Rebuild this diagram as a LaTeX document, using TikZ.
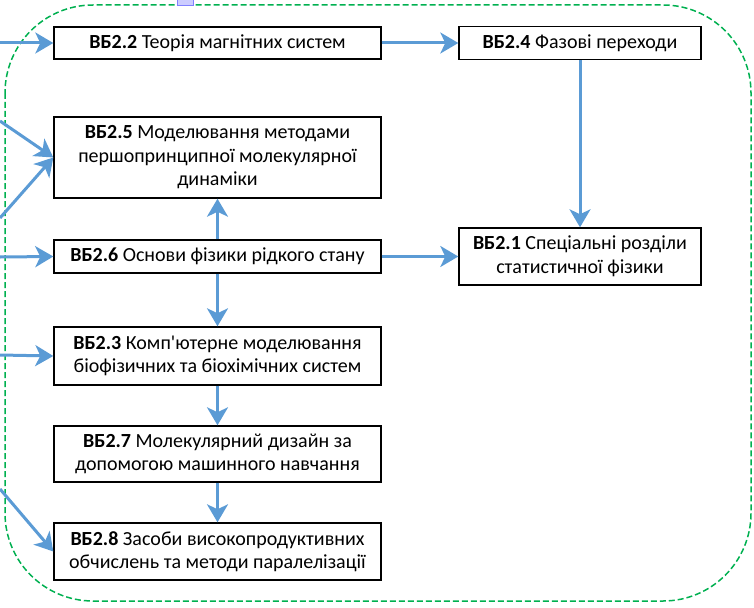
\documentclass[tikz,border=0pt]{standalone}
\usepackage{fontspec}
\setmainfont{Carlito}[Ligatures=TeXOff]
\usetikzlibrary{arrows.meta}
\definecolor{arrowblue}{RGB}{91,155,213}
\definecolor{framegreen}{RGB}{0,176,80}
\tikzset{
  box/.style={draw, line width=1.4pt, align=center, inner sep=0pt, font=\fontsize{20}{23.5}\selectfont},
  wide/.style={box, minimum width=327pt},
  narrow/.style={box, minimum width=242pt},
  flow/.style={draw=arrowblue, line width=3pt, -{Stealth[length=18pt,width=21pt,inset=5pt]}}
}
\begin{document}
\begin{tikzpicture}[x=1pt, y=-1pt]
\useasboundingbox (0,0) rectangle (754,607);
% frame
\draw[framegreen, line width=1.5pt, dash pattern=on 6pt off 3pt, rounded corners=88pt] (5,5) rectangle (751,601);
\draw[blue!50, fill=blue!20, line width=0.8pt] (177,-4) rectangle (193,5);
% boxes
\node[wide, minimum height=32pt] (b22) at (217.5,43) {\textbf{ВБ2.2} Теорія магнітних систем};
\node[narrow, minimum height=33pt] (b24) at (580,43) {\textbf{ВБ2.4} Фазові переходи};
\node[wide, minimum height=81pt] (b25) at (217.5,157.5) {\textbf{ВБ2.5} Моделювання методами\\першопринципної молекулярної\\динаміки};
\node[wide, minimum height=33pt] (b26) at (217.5,256.5) {\textbf{ВБ2.6} Основи фізики рідкого стану};
\node[narrow, minimum height=57pt] (b21) at (580,256.5) {\textbf{ВБ2.1} Спеціальні розділи\\статистичної фізики};
\node[wide, minimum height=58pt] (b23) at (217.5,356) {\textbf{ВБ2.3} Комп'ютерне моделювання\\біофізичних та біохімічних систем};
\node[wide, minimum height=56pt] (b27) at (217.5,454) {\textbf{ВБ2.7} Молекулярний дизайн за\\допомогою машинного навчання};
\node[wide, minimum height=57pt] (b28) at (217.5,551.5) {\textbf{ВБ2.8} Засоби високопродуктивних\\обчислень та методи паралелізації};
% links inside
\draw[flow] (b22) -- (b24);
\draw[flow] (b24) -- (b21);
\draw[flow] (b26) -- (b25);
\draw[flow] (b26) -- (b23);
\draw[flow] (b26) -- (b21);
\draw[flow] (b23) -- (b27);
\draw[flow] (b27) -- (b28);
% links from outside
\foreach \i/\y/\target in {1/43/b22.west, 2/121/b25.west, 3/218/b25.west, 4/257/b26.west, 5/355/b23.west, 6/489/b28.west}
{
  \coordinate (in\i) at (0,\y);
  \draw[flow] (in\i) -- (\target);
}
\end{tikzpicture}
\end{document}
